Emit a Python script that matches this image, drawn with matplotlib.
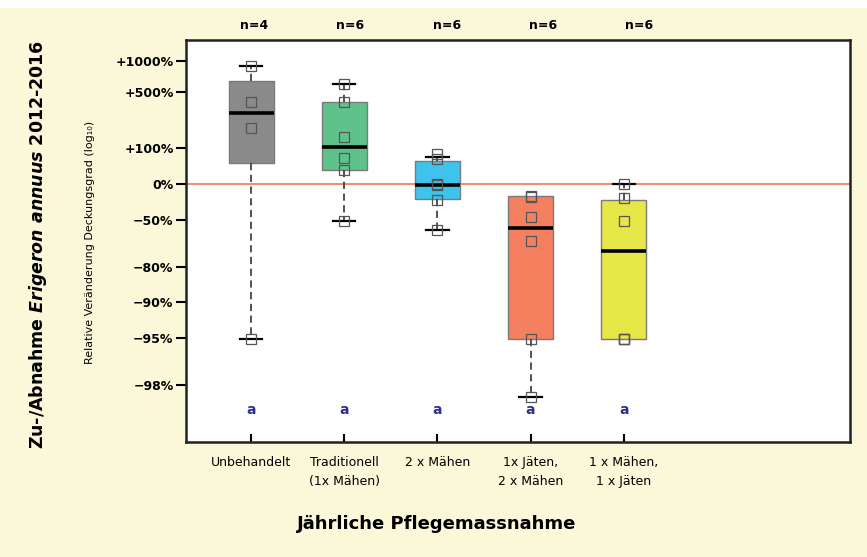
import numpy as np
import matplotlib
matplotlib.use("Agg")
import matplotlib.pyplot as plt
from matplotlib import font_manager
from matplotlib.patches import Rectangle

# --- data (log10 of relative change in cover) ---
groups = ["Unbehandelt", "Traditionell\n(1x Mähen)", "2 x Mähen",
          "1x Jäten,\n2 x Mähen", "1 x Mähen,\n1 x Jäten"]
n_obs = [4, 6, 6, 6, 6]
medians = [0.60, 0.31, -0.01, -0.37, -0.57]
q1 = [0.175, 0.118, -0.13, -1.31, -1.31]
q3 = [0.87, 0.696, 0.197, -0.104, -0.135]
whis_lo = [-1.31, -0.31, -0.39, -1.80, -1.31]
whis_hi = [1.00, 0.843, 0.228, -0.104, 0.0]
pts_unbehandelt = [1.00, 0.696, 0.471, -1.31]
pts_traditionell = [0.843, 0.696, 0.395, 0.217, 0.118, -0.31]
pts_2xmaehen = [0.25, 0.21, 0.0, -0.01, -0.135, -0.39]
pts_jaeten_2x = [-0.10, -0.11, -0.28, -0.48, -1.31, -1.80]
pts_maehen_jaeten = [0.0, -0.12, -0.31, -1.31, -1.31, -1.31]
points = [pts_unbehandelt, pts_traditionell, pts_2xmaehen,
          pts_jaeten_2x, pts_maehen_jaeten]
letters = ["a", "a", "a", "a", "a"]

tick_pct = [1000, 500, 100, 0, -50, -80, -90, -95, -98]
tick_lbl = ["+1000%", "+500%", "+100%", "0%", "\u221250%", "\u221280%",
            "\u221290%", "\u221295%", "\u221298%"]

box_colors = ["#8a8a8a", "#5fc28b", "#3ec3ec", "#f4805f", "#e6e646"]
bg = "#faf8d9"

available = {f.name for f in font_manager.fontManager.ttflist}
narrow = "Liberation Sans Narrow" if "Liberation Sans Narrow" in available else "DejaVu Sans"

plt.rcParams["mathtext.fontset"] = "custom"
plt.rcParams["mathtext.rm"] = "DejaVu Sans:bold"
plt.rcParams["mathtext.it"] = "DejaVu Sans:italic:bold"

fig = plt.figure(figsize=(8.67, 5.57), dpi=100)
fig.set_facecolor(bg)
fig.patches.append(Rectangle((0, 1 - 8 / 557), 1, 8 / 557, transform=fig.transFigure,
                             facecolor="white", edgecolor="none", zorder=-1))
ax = fig.add_axes([186 / 867, 1 - 442 / 557, (850 - 186) / 867, (442 - 40) / 557])
ax.set_facecolor("white")

pos = np.arange(1, len(groups) + 1)
stats = []
for i in range(len(groups)):
    stats.append(dict(med=medians[i], q1=q1[i], q3=q3[i],
                      whislo=whis_lo[i], whishi=whis_hi[i], fliers=[]))

bp = ax.bxp(stats, positions=pos, widths=0.48, patch_artist=True,
            showfliers=False, capwidths=0.24,
            boxprops=dict(edgecolor="#7a7a7a", linewidth=1.0),
            medianprops=dict(color="black", linewidth=2.6),
            whiskerprops=dict(color="#444444", linewidth=1.3, linestyle=(0, (4, 2.5))),
            capprops=dict(color="black", linewidth=1.6))
for patch, c in zip(bp["boxes"], box_colors):
    patch.set_facecolor(c)
    patch.set_zorder(2)
for i in range(len(groups)):
    cap_lo, cap_hi = bp["caps"][2 * i], bp["caps"][2 * i + 1]
    if whis_lo[i] == q1[i]:
        cap_lo.set_visible(False)
    if whis_hi[i] == q3[i]:
        cap_hi.set_visible(False)
    for ln in bp["caps"][2 * i:2 * i + 2] + bp["whiskers"][2 * i:2 * i + 2]:
        ln.set_zorder(3)
    bp["medians"][i].set_zorder(3)

ax.axhline(0, color="#f28a70", linewidth=1.4, zorder=1.5)

for p, vals in zip(pos, points):
    ax.plot([p] * len(vals), vals, linestyle="none", marker="s", markersize=6.5,
            markerfacecolor="none", markeredgecolor="#555555", markeredgewidth=0.9,
            zorder=4)

for p, let in zip(pos, letters):
    ax.text(p, -1.91, let, ha="center", va="center", color="#2e3192",
            fontsize=10, fontweight="bold")

for p, n in zip(pos, n_obs):
    ax.text(p * 1.033, 1.035, f"n={n}", transform=ax.get_xaxis_transform(),
            ha="center", va="center", fontsize=9, fontweight="bold", family=narrow)

ax.set_xlim(0.3, 7.43)
ax.set_ylim(-2.183, 1.218)
ax.set_yticks(np.log10(1 + np.array(tick_pct) / 100.0))
ax.set_yticklabels(tick_lbl, fontsize=9, fontweight="bold")
ax.set_xticks(pos)
ax.set_xticklabels(groups, fontsize=9, family=narrow, linespacing=1.6)
ax.tick_params(axis="y", direction="out", length=7, width=1.5, pad=2)
ax.tick_params(axis="x", direction="in", length=6, width=1.5, pad=10)
for s in ax.spines.values():
    s.set_linewidth(1.8)
    s.set_color("#222222")

fig.text(437 / 867, 1 - 524 / 557, "Jährliche Pflegemassnahme", ha="center",
         va="center", fontsize=13, fontweight="bold")
fig.text(38 / 867, 1 - 244 / 557, "Zu-/Abnahme $Erigeron\\ annuus$ 2012-2016",
         rotation=90, ha="center", va="center", fontsize=12.5, fontweight="bold")
fig.text(90 / 867, 1 - 242 / 557, "Relative Veränderung Deckungsgrad (log\u2081\u2080)",
         rotation=90, ha="center", va="center", fontsize=8, family=narrow)

fig.savefig("out.png", dpi=100, facecolor=fig.get_facecolor())
